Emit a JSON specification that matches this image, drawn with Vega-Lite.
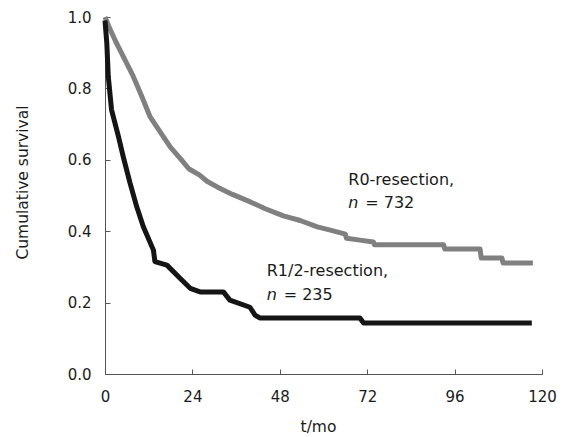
{
  "$schema": "https://vega.github.io/schema/vega-lite/v6.json",
  "width": 437,
  "height": 357,
  "autosize": {"type": "none"},
  "padding": {"left": 105, "top": 17, "right": 20, "bottom": 63},
  "background": "white",
  "config": {
    "view": {"stroke": null},
    "font": "DejaVu Sans",
    "axis": {
      "grid": false,
      "domainColor": "#555555",
      "tickColor": "#555555",
      "tickSize": -5,
      "labelColor": "#1a1a1a",
      "labelFontSize": 15,
      "labelFont": "DejaVu Sans",
      "titleColor": "#1a1a1a",
      "titleFont": "DejaVu Sans",
      "titleFontSize": 15.5,
      "titleFontWeight": "normal",
      "labelFlush": false
    }
  },
  "datasets": {
    "curves": [
      {"group": "R0", "t": 0, "s": 1.0},
      {"group": "R0", "t": 1, "s": 0.975},
      {"group": "R0", "t": 3, "s": 0.93},
      {"group": "R0", "t": 5, "s": 0.89},
      {"group": "R0", "t": 7.7, "s": 0.835},
      {"group": "R0", "t": 10, "s": 0.78},
      {"group": "R0", "t": 12.4, "s": 0.72},
      {"group": "R0", "t": 15, "s": 0.68},
      {"group": "R0", "t": 18, "s": 0.635},
      {"group": "R0", "t": 21, "s": 0.6},
      {"group": "R0", "t": 23, "s": 0.575},
      {"group": "R0", "t": 26, "s": 0.557},
      {"group": "R0", "t": 28, "s": 0.54},
      {"group": "R0", "t": 30.8, "s": 0.524},
      {"group": "R0", "t": 35, "s": 0.503},
      {"group": "R0", "t": 39.9, "s": 0.482},
      {"group": "R0", "t": 44, "s": 0.463},
      {"group": "R0", "t": 49, "s": 0.443},
      {"group": "R0", "t": 53.6, "s": 0.43},
      {"group": "R0", "t": 58.3, "s": 0.412},
      {"group": "R0", "t": 61.9, "s": 0.403},
      {"group": "R0", "t": 66, "s": 0.392},
      {"group": "R0", "t": 66.3, "s": 0.38},
      {"group": "R0", "t": 70, "s": 0.375},
      {"group": "R0", "t": 73.7, "s": 0.37},
      {"group": "R0", "t": 74, "s": 0.362},
      {"group": "R0", "t": 93, "s": 0.362},
      {"group": "R0", "t": 93.3, "s": 0.35},
      {"group": "R0", "t": 103, "s": 0.35},
      {"group": "R0", "t": 103.3, "s": 0.325},
      {"group": "R0", "t": 109, "s": 0.325},
      {"group": "R0", "t": 109.3, "s": 0.311},
      {"group": "R0", "t": 117.5, "s": 0.311},
      {"group": "R1/2", "t": 0, "s": 0.99},
      {"group": "R1/2", "t": 0.5, "s": 0.926},
      {"group": "R1/2", "t": 0.9, "s": 0.833},
      {"group": "R1/2", "t": 1.8, "s": 0.74},
      {"group": "R1/2", "t": 3.7, "s": 0.665},
      {"group": "R1/2", "t": 5, "s": 0.609},
      {"group": "R1/2", "t": 6.9, "s": 0.534},
      {"group": "R1/2", "t": 8.7, "s": 0.469},
      {"group": "R1/2", "t": 10.5, "s": 0.413},
      {"group": "R1/2", "t": 13.3, "s": 0.347},
      {"group": "R1/2", "t": 13.7, "s": 0.315},
      {"group": "R1/2", "t": 17, "s": 0.305},
      {"group": "R1/2", "t": 20.6, "s": 0.268},
      {"group": "R1/2", "t": 23.4, "s": 0.24},
      {"group": "R1/2", "t": 26.1, "s": 0.23},
      {"group": "R1/2", "t": 32.5, "s": 0.23},
      {"group": "R1/2", "t": 34.3, "s": 0.207},
      {"group": "R1/2", "t": 39.8, "s": 0.187},
      {"group": "R1/2", "t": 41.2, "s": 0.165},
      {"group": "R1/2", "t": 42.5, "s": 0.157},
      {"group": "R1/2", "t": 70, "s": 0.157},
      {"group": "R1/2", "t": 71, "s": 0.143},
      {"group": "R1/2", "t": 117.2, "s": 0.143}
    ],
    "labels": [
      {"t": 66.8, "s": 0.529, "part": "head", "text": "R0-resection,"},
      {"t": 66.8, "s": 0.464, "part": "n", "text": "n"},
      {"t": 66.8, "s": 0.464, "part": "count", "text": "= 732"},
      {"t": 44.4, "s": 0.2745, "part": "head", "text": "R1/2-resection,"},
      {"t": 44.4, "s": 0.207, "part": "n", "text": "n"},
      {"t": 44.4, "s": 0.207, "part": "count", "text": "= 235"}
    ]
  },
  "layer": [
    {
      "data": {"name": "curves"},
      "mark": {"type": "line", "strokeWidth": 5, "interpolate": "linear", "strokeJoin": "round", "strokeCap": "butt"},
      "encoding": {
        "x": {
          "field": "t", "type": "quantitative",
          "scale": {"domain": [0, 120], "nice": false, "zero": false},
          "axis": {
            "values": [0, 24, 48, 72, 96, 120],
            "labelPadding": 20,
            "title": "t/mo",
            "titleX": 213,
            "titleY": 45
          }
        },
        "y": {
          "field": "s", "type": "quantitative",
          "scale": {"domain": [0, 1], "nice": false},
          "axis": {
            "values": [0, 0.2, 0.4, 0.6, 0.8, 1.0],
            "format": ".1f",
            "labelPadding": 19,
            "title": "Cumulative survival",
            "titleX": -75,
            "titleY": 165
          }
        },
        "color": {
          "field": "group", "type": "nominal",
          "scale": {"domain": ["R0", "R1/2"], "range": ["#808080", "#151515"]},
          "legend": null
        },
        "order": {"field": "t", "type": "quantitative"}
      }
    },
    {
      "data": {"name": "labels"},
      "transform": [{"filter": "datum.part === 'head'"}],
      "mark": {"type": "text", "align": "left", "baseline": "alphabetic", "fontSize": 16, "font": "DejaVu Sans", "color": "#1a1a1a"},
      "encoding": {
        "x": {"field": "t", "type": "quantitative"},
        "y": {"field": "s", "type": "quantitative"},
        "text": {"field": "text"}
      }
    },
    {
      "data": {"name": "labels"},
      "transform": [{"filter": "datum.part === 'n'"}],
      "mark": {"type": "text", "align": "left", "baseline": "alphabetic", "fontSize": 16, "fontStyle": "italic", "font": "DejaVu Sans", "color": "#1a1a1a"},
      "encoding": {
        "x": {"field": "t", "type": "quantitative"},
        "y": {"field": "s", "type": "quantitative"},
        "text": {"field": "text"}
      }
    },
    {
      "data": {"name": "labels"},
      "transform": [{"filter": "datum.part === 'count'"}],
      "mark": {"type": "text", "align": "left", "baseline": "alphabetic", "fontSize": 16, "dx": 17, "font": "DejaVu Sans", "color": "#1a1a1a"},
      "encoding": {
        "x": {"field": "t", "type": "quantitative"},
        "y": {"field": "s", "type": "quantitative"},
        "text": {"field": "text"}
      }
    }
  ]
}
